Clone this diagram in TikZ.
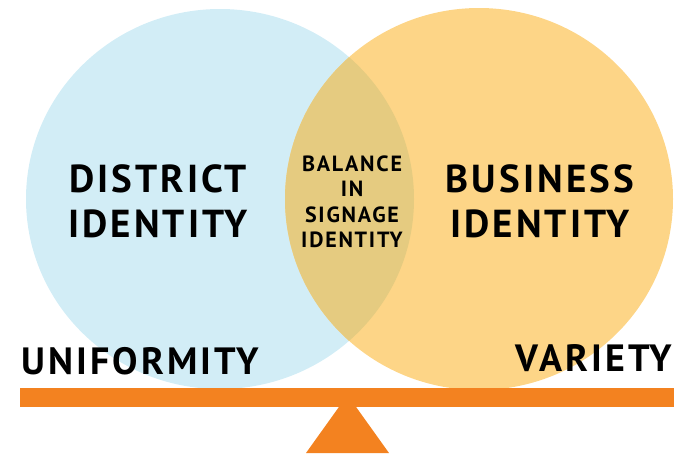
\documentclass[tikz,border=0pt]{standalone}
\usepackage{fontspec}
\setmainfont{PT Sans}
\newfontfamily\signfont[LetterSpace=8]{PT Sans}
\usepackage{xcolor}
\definecolor{districtblue}{RGB}{210,237,246}
\definecolor{businessgold}{RGB}{253,213,135}
\definecolor{balancemix}{RGB}{229,203,128}
\definecolor{beamorange}{RGB}{243,130,32}
\usetikzlibrary{positioning}

\begin{document}
\begin{tikzpicture}[x=1pt,y=-1pt,
    bigtxt/.style={font=\signfont\bfseries\fontsize{39}{45}\selectfont,align=center,text=black},
    midtxt/.style={font=\signfont\bfseries\fontsize{22}{25.5}\selectfont,align=center,text=black},
    endtxt/.style={font=\signfont\bfseries\fontsize{38}{40}\selectfont,text=black}]
  \useasboundingbox (0,0) rectangle (688,453);
  % Los dos circulos y su interseccion
  \fill[districtblue] (220,199) ellipse (194 and 190);
  \fill[businessgold] (479,199) ellipse (194 and 191);
  \begin{scope}
    \clip (220,199) ellipse (194 and 190);
    \fill[balancemix] (479,199) ellipse (194 and 191);
  \end{scope}
  % Balanza
  \fill[beamorange] (306,453) -- (347.5,395) -- (389,453) -- cycle;
  \fill[beamorange] (20,388) rectangle (674,407);
  % Textos
  \node[bigtxt] (district) at (158,201) {DISTRICT\\IDENTITY};
  \node[bigtxt] (business) at (540,201) {BUSINESS\\IDENTITY};
  \node[midtxt] (balance) at (352,202) {BALANCE\\IN\\SIGNAGE\\IDENTITY};
  \node[endtxt,anchor=west] (uniform) at (18,361) {UNIFORMITY};
  \node[endtxt,anchor=east] (variety) at (676,358) {VARIETY};
\end{tikzpicture}
\end{document}
